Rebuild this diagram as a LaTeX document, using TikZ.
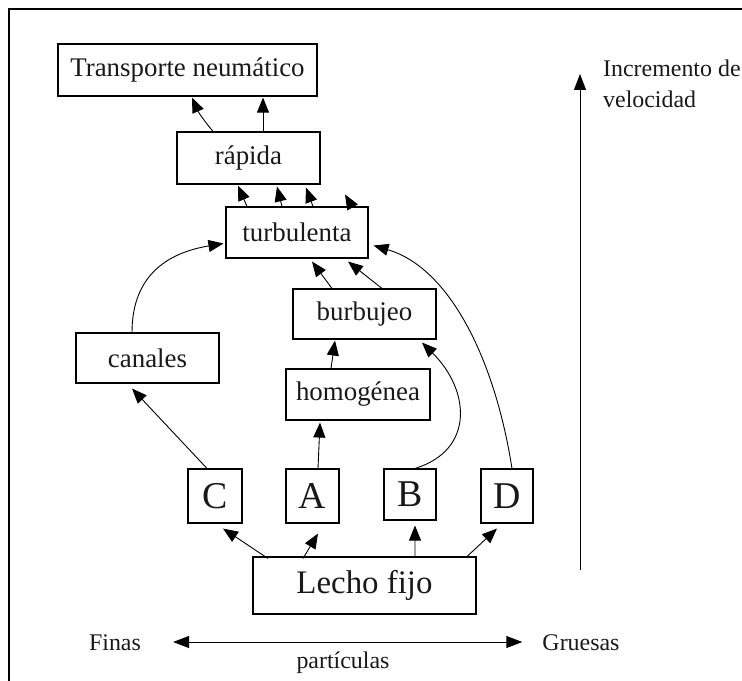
\documentclass[tikz,border=0pt]{standalone}
\usepackage{fontspec}
\setmainfont{Liberation Serif}
\usetikzlibrary{arrows.meta,calc}
\newcommand\fmid{\fontsize{27}{32}\selectfont}
\newcommand\fbig{\fontsize{33}{38}\selectfont}
\newcommand\fletter{\fontsize{38}{42}\selectfont}
\newcommand\fside{\fontsize{24}{31}\selectfont}
\begin{document}
\begin{tikzpicture}[x=1bp,y=-1bp,
  box/.style={draw, line width=1.1bp, inner sep=0pt, text=black!90},
  arr/.style={line width=0.9bp, -{Triangle[length=15bp,width=12bp]}},
  lbl/.style={inner sep=0pt, text=black!90, font=\fside}]
\useasboundingbox (0,0) rectangle (742,681);
% frame
\draw[line width=1.6bp] (742,9) -- (9,9) -- (9,681);
% nodes
\node[box, minimum width=259bp, minimum height=52bp, font=\fmid] (trans) at (187.5,70) {Transporte neumático};
\node[box, minimum width=143bp, minimum height=52bp, font=\fmid] (rap) at (248.5,158) {rápida};
\node[box, minimum width=142bp, minimum height=51bp, font=\fmid] (turb) at (297,232.5) {turbulenta};
\node[box, minimum width=143bp, minimum height=50bp, font=\fmid] (burb) at (364.5,314) {burbujeo};
\node[box, minimum width=143bp, minimum height=50bp, font=\fmid] (can) at (147.5,358) {canales};
\node[box, minimum width=144bp, minimum height=51bp, font=\fmid] (hom) at (358,394.5) {homogénea};
\node[box, minimum width=54bp, minimum height=54bp, font=\fletter] (C) at (215,496) {C};
\node[box, minimum width=53bp, minimum height=54bp, font=\fletter] (A) at (312.5,496) {A};
\node[box, minimum width=52bp, minimum height=51bp, font=\fletter] (B) at (410,494.5) {B};
\node[box, minimum width=52bp, minimum height=54bp, font=\fletter] (D) at (507,496) {D};
\node[box, minimum width=223bp, minimum height=57bp, font=\fbig] (lecho) at (364.5,585.5) {Lecho fijo};
% side labels
\node[lbl] (finas) at (115,643) {Finas};
\node[lbl] (grue) at (581,643) {Gruesas};
\node[lbl] (part) at (343,663) {partículas};
\node[lbl, anchor=north west, align=left] (incr) at (603,60) {Incremento de\\velocidad};
% edges top
\draw[arr] ($(rap.north)+(-35.5,0)$) to[bend left=8] ($(trans.south)+(4.5,1)$);
\draw[arr] ($(rap.north)+(14.5,0)$) -- ($(trans.south)+(75.5,1)$);
\draw[arr] ($(turb.north)+(-50,0)$) -- ($(rap.south)+(-10.5,1)$);
\draw[arr] ($(turb.north)+(-15,0)$) -- ($(rap.south)+(28.5,2)$);
\draw[arr] ($(turb.north)+(16,0)$) -- ($(rap.south)+(57.5,3)$);
\coordinate (free) at ($(turb.north)+(48,-12)$);
\draw[arr] ($(turb.north)+(55,0)$) -- (free);
\draw[arr] ($(burb.north)+(-32.5,0)$) -- ($(turb.south)+(15,3)$);
\draw[arr] ($(burb.north)+(17.5,0)$) -- ($(turb.south)+(51,3)$);
\draw[arr] ($(can.north)+(-15.5,0)$) .. controls (132,272) and (172,252) .. ($(turb.west)+(-2,11)$);
\draw[arr] ($(D.north)+(5,0)$) .. controls (495,360) and (450,268) .. ($(turb.east)+(5,13)$);
\draw[arr] ($(B.north)+(5,0)$) .. controls (475,450) and (470,390) .. ($(burb.south)+(57.5,3)$);
\draw[arr] ($(hom.north)+(-27,0)$) -- ($(burb.south)+(-29.5,1)$);
\draw[arr] ($(A.north)+(5.5,0)$) -- ($(hom.south)+(-38,2)$);
\draw[arr] ($(C.north)+(-8,0)$) -- ($(can.south)+(-15.5,5)$);
% from lecho fijo
\draw[arr] ($(lecho.north)+(-96.5,2)$) -- ($(C.south)+(8,5)$);
\draw[arr] ($(lecho.north)+(-61.5,2)$) -- ($(A.south)+(5.5,10)$);
\draw[arr] ($(lecho.north)+(50.5,0)$) -- ($(B.south)+(5,5)$);
\draw[arr] ($(lecho.north)+(101.5,1)$) -- ($(D.south)+(-10,5)$);
% particles axis
\coordinate (pl) at ($(finas.east)+(32,-1)$);
\coordinate (pr) at ($(grue.west)+(-20,-1)$);
\draw[line width=1bp, {Triangle[length=16bp,width=12bp]}-{Triangle[length=16bp,width=12bp]}] (pl) -- (pr);
% velocity axis
\coordinate (vb) at (580,570);
\coordinate (vt) at (580,74);
\draw[line width=1bp, -{Triangle[length=16bp,width=12bp]}] (vb) -- (vt);
\end{tikzpicture}
\end{document}
